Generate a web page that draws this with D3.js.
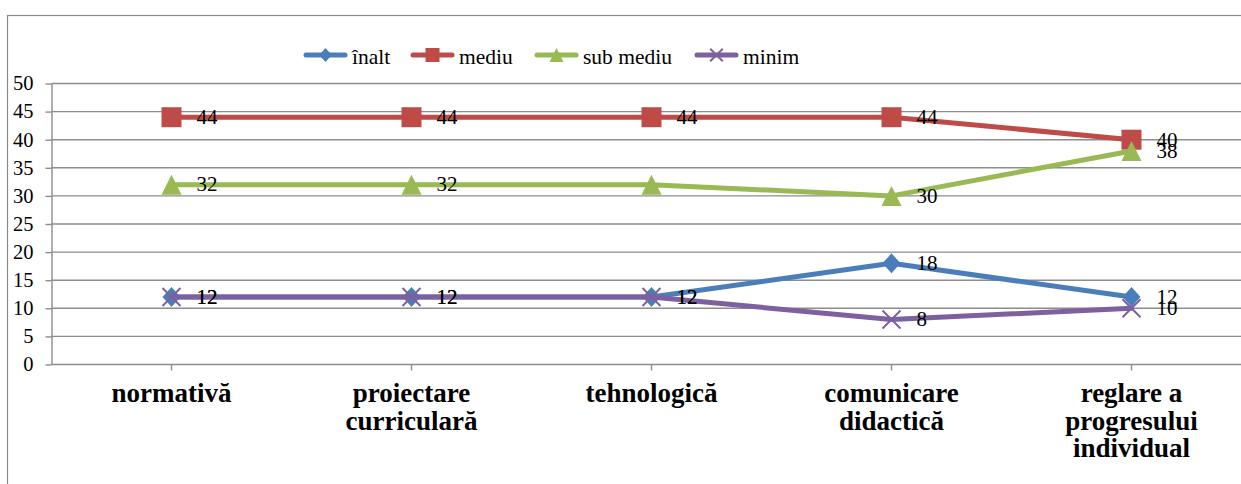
<!DOCTYPE html>
<html>
<head>
<meta charset="utf-8">
<script src="https://cdn.jsdelivr.net/npm/d3@7"></script>
</head>
<body style="margin:0">
<svg id="chart" width="1241" height="484" font-family="serif"></svg>
<script>
// Categories (each split into its printed lines)
const categories = ["normativă", "proiectare curriculară", "tehnologică", "comunicare didactică", "reglare a progresului individual"];
const categoryLines = [["normativă"], ["proiectare", "curriculară"], ["tehnologică"], ["comunicare", "didactică"], ["reglare a", "progresului", "individual"]];

// Series values
const seriesNames = ["înalt", "mediu", "sub mediu", "minim"];
const inalt    = [12, 12, 12, 18, 12];
const mediu    = [44, 44, 44, 44, 40];
const subMediu = [32, 32, 32, 30, 38];
const minim    = [12, 12, 12, 8, 10];
// Which points carry a value label
const inaltLabels    = [true, true, true, true, true];
const mediuLabels    = [true, true, true, true, true];
const subMediuLabels = [true, true, false, true, true];
const minimLabels    = [true, true, true, true, true];

const yTicks = [0, 5, 10, 15, 20, 25, 30, 35, 40, 45, 50];

const colors  = ["#4a7ebb", "#be4b48", "#98b954", "#7d60a0"];
const markers = ["diamond", "square", "triangle", "cross"];

const series = [
  { name: seriesNames[0], values: inalt,    labels: inaltLabels,    color: colors[0], marker: markers[0] },
  { name: seriesNames[1], values: mediu,    labels: mediuLabels,    color: colors[1], marker: markers[1] },
  { name: seriesNames[2], values: subMediu, labels: subMediuLabels, color: colors[2], marker: markers[2] },
  { name: seriesNames[3], values: minim,    labels: minimLabels,    color: colors[3], marker: markers[3] }
];

const SERIF = '"Times New Roman", "Liberation Serif", Tinos, serif';
const svg = d3.select("#chart");

// helper: serif text placed straight on the svg
function addText(px, py, str, size, opts = {}) {
  const t = svg.append("text")
    .attr("x", px).attr("y", py)
    .attr("font-size", size)
    .attr("font-family", "serif")
    .style("font-family", SERIF)
    .text(str);
  if (opts.anchor) t.attr("text-anchor", opts.anchor);
  if (opts.bold) t.attr("font-weight", "bold");
  return t;
}

// outer frame
svg.append("rect")
  .attr("x", 7.5).attr("y", 15.5)
  .attr("width", 1300).attr("height", 600)
  .attr("fill", "none").attr("stroke", "#8a8a8a").attr("stroke-width", 1.2);

const plot = { left: 51.5, top: 83.5, bottom: 364.5, right: 1251.5 };

const x = d3.scaleBand().domain(categories).range([plot.left, plot.right]);
const cx = c => x(c) + x.bandwidth() / 2;
const y = d3.scaleLinear().domain([0, 50]).range([plot.bottom, plot.top]);

// gridlines
svg.append("g")
  .selectAll("line")
  .data(yTicks.filter(t => t > 0))
  .join("line")
  .attr("x1", plot.left).attr("x2", 1241)
  .attr("y1", d => y(d)).attr("y2", d => y(d))
  .attr("stroke", "#8c8c8c").attr("stroke-width", 1.4);

// y axis (ticks and line from the axis generator, labels as serif text)
const yAxis = svg.append("g")
  .attr("transform", `translate(${plot.left},0)`)
  .call(d3.axisLeft(y).tickValues(yTicks).tickSize(6).tickSizeOuter(0));
yAxis.select(".domain").attr("stroke", "#8c8c8c").attr("stroke-width", 1.4);
yAxis.selectAll(".tick line").attr("stroke", "#8c8c8c").attr("stroke-width", 1.4);
yAxis.selectAll(".tick text").remove();
yTicks.forEach(t => addText(33.5, y(t) + 6.8, t, 20.5, { anchor: "end" }));

// x axis
const xAxis = svg.append("g")
  .attr("transform", `translate(0,${plot.bottom})`)
  .call(d3.axisBottom(x).tickSize(6).tickSizeOuter(0).tickFormat(""));
xAxis.select(".domain").attr("stroke", "#8c8c8c").attr("stroke-width", 1.4)
  .attr("d", `M${plot.left},0H1241`);
xAxis.selectAll(".tick line").attr("stroke", "#8c8c8c").attr("stroke-width", 1.4);

// category labels
categories.forEach((c, i) => {
  categoryLines[i].forEach((ln, j) => {
    addText(cx(c), 402 + j * 27.5, ln, 27, { anchor: "middle", bold: true });
  });
});

// marker shapes
function markerPath(type, s) {
  const p = d3.path();
  const h = s / 2;
  if (type === "square") {
    p.rect(-h, -h, s, s);
  } else if (type === "diamond") {
    const w = h * 0.9;
    p.moveTo(0, -h); p.lineTo(w, 0); p.lineTo(0, h); p.lineTo(-w, 0); p.closePath();
  } else if (type === "triangle") {
    p.moveTo(0, -h); p.lineTo(h, h); p.lineTo(-h, h); p.closePath();
  } else if (type === "cross") {
    const w = h * 0.9;
    p.moveTo(-w, -w); p.lineTo(w, w); p.moveTo(w, -w); p.lineTo(-w, w);
  }
  return p.toString();
}

function drawMarker(g, type, color, px, py, s) {
  const m = g.append("path")
    .attr("d", markerPath(type, s))
    .attr("transform", `translate(${px},${py})`);
  if (type === "cross") {
    m.attr("fill", "none").attr("stroke", color).attr("stroke-width", 2);
  } else {
    m.attr("fill", color).attr("stroke", "none");
  }
}

const line = d3.line().x((d, i) => cx(categories[i])).y(d => y(d));

// lines and markers
series.forEach(s => {
  const g = svg.append("g");
  g.append("path")
    .datum(s.values)
    .attr("d", line)
    .attr("fill", "none")
    .attr("stroke", s.color)
    .attr("stroke-width", 5)
    .attr("stroke-linejoin", "round")
    .attr("stroke-linecap", "round");
  s.values.forEach((v, i) => {
    drawMarker(g, s.marker, s.color, cx(categories[i]), y(v), 20);
  });
});

// value labels
series.forEach(s => {
  s.values.forEach((v, i) => {
    if (!s.labels[i]) return;
    addText(cx(categories[i]) + 25, y(v) + 6.8, v, 21);
  });
});

// legend
const legendX = [306, 413, 537, 697];
const legend = svg.append("g");
series.forEach((s, i) => {
  const lx = legendX[i];
  legend.append("line")
    .attr("x1", lx).attr("x2", lx + 39)
    .attr("y1", 55).attr("y2", 55)
    .attr("stroke", s.color).attr("stroke-width", 5)
    .attr("stroke-linecap", "round");
  drawMarker(legend, s.marker, s.color, lx + 19.5, 55, 14);
  addText(lx + 46, 63.5, s.name, 21.5);
});
</script>
</body>
</html>
